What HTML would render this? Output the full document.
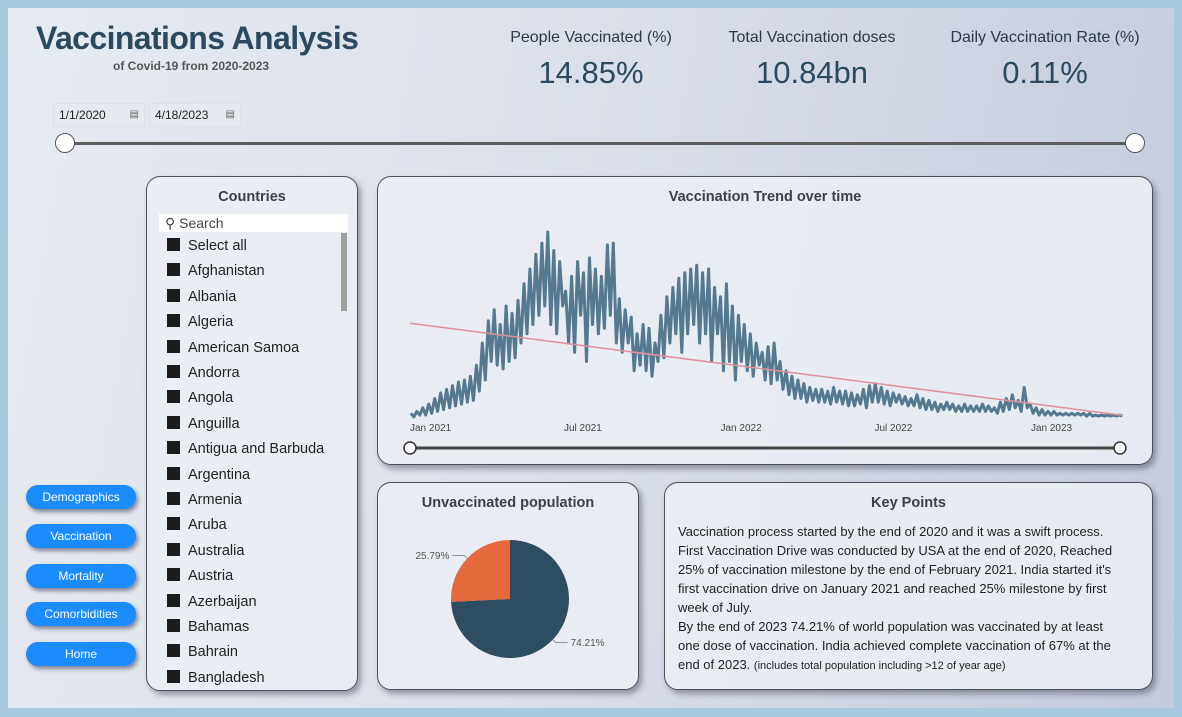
<!DOCTYPE html>
<html><head><meta charset="utf-8">
<style>
body{margin:0;width:1182px;height:717px;background:#a9cade;font-family:"Liberation Sans",sans-serif;overflow:hidden;position:relative}
#canvas{position:absolute;left:8px;top:8px;width:1166px;height:700px;background:linear-gradient(100deg,#e7ebf2 0%,#d9dee8 50%,#c4cbdb 100%)}
.abs{position:absolute}
.panel{position:absolute;border:1px solid #4a4f58;border-radius:14px;background:rgba(234,237,244,0.9);box-shadow:3px 4px 6px rgba(60,60,80,0.45)}
.ptitle{position:absolute;left:0;right:0;text-align:center;font-size:14.5px;font-weight:bold;color:#3c4048}
.kpi-l{position:absolute;font-size:16px;color:#2c3a48;text-align:center}
.kpi-v{position:absolute;font-size:31px;color:#2c4a5f;text-align:center}
.btn{position:absolute;left:26px;width:110px;height:24px;border-radius:12px;background:#1a8cff;color:#fff;font-size:12px;text-align:center;line-height:24px;box-shadow:2px 3px 4px rgba(40,40,60,0.5)}
.item{position:absolute;left:20px;font-size:14.5px;color:#222;height:20px;line-height:20px}
.item span.cb{display:inline-block;width:13px;height:13px;background:#1c1c1c;margin-right:8px;vertical-align:-1px}
.date{position:absolute;top:103px;height:22px;background:rgba(230,234,240,0.8);border:1px solid #dde1e8;font-size:12px;line-height:22px;color:#222;padding-left:5px}
</style></head><body>
<div id="canvas"></div>
<div class="abs" style="left:36px;top:20px;font-size:32px;font-weight:bold;color:#2c4a5f;letter-spacing:-0.6px">Vaccinations Analysis</div>
<div class="abs" style="left:113px;top:59px;font-size:12px;font-weight:bold;color:#555">of Covid-19 from 2020-2023</div>

<div class="kpi-l" style="left:491px;width:200px;top:29px">People Vaccinated (%)</div>
<div class="kpi-v" style="left:491px;width:200px;top:55px">14.85%</div>
<div class="kpi-l" style="left:712px;width:200px;top:29px">Total Vaccination doses</div>
<div class="kpi-v" style="left:712px;width:200px;top:55px">10.84bn</div>
<div class="kpi-l" style="left:945px;width:200px;top:29px">Daily Vaccination Rate (%)</div>
<div class="kpi-v" style="left:945px;width:200px;top:55px">0.11%</div>

<div class="date" style="left:53px;width:85px">1/1/2020<span style="position:absolute;right:5px;font-size:10px;color:#666">▤</span></div>
<div class="date" style="left:149px;width:85px">4/18/2023<span style="position:absolute;right:5px;font-size:10px;color:#666">▤</span></div>
<div class="abs" style="left:66px;top:142px;width:1070px;height:3px;background:#5c5c5c"></div>
<div class="abs" style="left:55px;top:133px;width:18px;height:18px;border:1.5px solid #555;border-radius:50%;background:#fff"></div>
<div class="abs" style="left:1125px;top:133px;width:18px;height:18px;border:1.5px solid #555;border-radius:50%;background:#fff"></div>

<div class="btn" style="top:485px">Demographics</div>
<div class="btn" style="top:524px">Vaccination</div>
<div class="btn" style="top:564px">Mortality</div>
<div class="btn" style="top:602px">Comorbidities</div>
<div class="btn" style="top:642px">Home</div>

<div class="panel" style="left:146px;top:176px;width:210px;height:513px;overflow:hidden">
 <div class="ptitle" style="top:12px">Countries</div>
 <div class="abs" style="left:12px;top:37px;width:183px;height:18px;background:#fff;font-size:14px;color:#444;line-height:18px;padding-left:6px">⚲ Search</div>
 <div class="abs" style="left:194px;top:56px;width:6px;height:78px;background:#a0a0a0"></div>
 <div id="list"></div>
</div>

<div class="panel" style="left:377px;top:176px;width:774px;height:287px">
 <div class="ptitle" style="top:12px">Vaccination Trend over time</div>
</div>
<div class="panel" style="left:377px;top:482px;width:260px;height:206px">
 <div class="ptitle" style="top:12px">Unvaccinated population</div>
</div>
<div class="panel" style="left:664px;top:482px;width:487px;height:206px">
 <div class="ptitle" style="top:12px">Key Points</div>
 <div class="abs" style="left:13px;top:39px;width:480px;font-size:13px;line-height:19px;color:#222;white-space:nowrap">Vaccination process started by the end of 2020 and it was a swift process.<br>First Vaccination Drive was conducted by USA at the end of 2020, Reached<br>25% of vaccination milestone by the end of February 2021. India started it's<br>first vaccination drive on January 2021 and reached 25% milestone by first<br>week of July.<br>By the end of 2023 74.21% of world population was vaccinated by at least<br>one dose of vaccination. India achieved complete vaccination of 67% at the<br>end of 2023. <span style="font-size:11px">(includes total population including &gt;12 of year age)</span></div>
</div>

<svg class="abs" style="left:0;top:0" width="1182" height="717" id="svg"></svg>

<script>
const countries=["Select all","Afghanistan","Albania","Algeria","American Samoa","Andorra","Angola","Anguilla","Antigua and Barbuda","Argentina","Armenia","Aruba","Australia","Austria","Azerbaijan","Bahamas","Bahrain","Bangladesh"];
const weeklyHighs=[2,3,5,7,10,13,15,17,19,20,22,28,40,52,58,50,60,56,63,72,80,88,94,100,90,84,68,76,84,78,86,80,76,93,94,64,58,54,45,50,48,40,55,65,70,75,78,80,82,78,80,70,65,72,60,55,50,45,40,35,38,40,30,25,22,20,18,16,15,15,14,16,14,14,13,12,15,17,18,16,14,13,12,11,10,12,10,9,8,7,8,7,6,7,6,6,7,6,5,8,10,12,9,16,7,5,4,3,3,2,2,2,2,2,2,1,1,1,1,1];
const weeklyLows=[0,1,1,2,3,4,5,6,7,8,9,14,20,30,28,26,30,32,40,45,50,55,60,50,45,60,40,35,55,30,50,45,48,55,40,35,40,25,28,25,22,30,32,40,45,35,45,50,40,45,30,45,25,30,20,30,25,22,28,20,18,20,15,12,10,10,8,9,8,8,7,8,7,6,6,7,5,8,8,7,6,8,7,6,6,5,4,4,3,4,4,3,3,3,3,3,3,3,2,3,4,5,3,5,2,1,1,1,1,1,1,1,1,0.5,0.5,0.5,0.5,0.5,0.5,0.5];
const xTicks=["Jan 2021","Jul 2021","Jan 2022","Jul 2022","Jan 2023"];
const xTickDays=[0,181,365,546,730];
const pieLabels=["Vaccinated","Unvaccinated"];
const pieValues=[74.21,25.79];

const NS="http://www.w3.org/2000/svg";
const svg=document.getElementById('svg');
function mk(t,a){const e=document.createElementNS(NS,t);for(const k in a)e.setAttribute(k,a[k]);svg.appendChild(e);return e;}

const list=document.getElementById('list');
countries.forEach((c,i)=>{
 const d=document.createElement('div');
 d.className='item';d.style.top=(59+i*25.4)+'px';
 d.innerHTML='<span class="cb"></span>'+c;
 
 
 list.appendChild(d);
});

const totalDays=837,x0=410,x1=1122,base=417,vmax=100,ytop=232;
const xS=d=>x0+d/totalDays*(x1-x0);
const yS=v=>base-v/vmax*(base-ytop);
const pts=[];
weeklyHighs.forEach((h,i)=>{pts.push([i*7+1,h]);pts.push([i*7+4.5,weeklyLows[i]]);});
let n=pts.length,sx=0,sy=0,sxx=0,sxy=0;
pts.forEach(p=>{sx+=p[0];sy+=p[1];sxx+=p[0]*p[0];sxy+=p[0]*p[1];});
const m=(n*sxy-sx*sy)/(n*sxx-sx*sx),b=(sy-m*sx)/n;
const line=mk('path',{d:pts.map((p,i)=>(i?'L':'M')+xS(p[0]).toFixed(1)+','+yS(p[1]).toFixed(1)).join(''),fill:'none',stroke:'#557a8f','stroke-width':3,'stroke-linejoin':'round'});


const tr=mk('line',{x1:xS(0),y1:yS(b),x2:xS(totalDays),y2:yS(b+m*totalDays),stroke:'#e0909a','stroke-width':1.5});


xTicks.forEach((t,i)=>{
 const e=mk('text',{x:xS(xTickDays[i]),y:431,'font-size':10,fill:'#444','font-family':'Liberation Sans'});
 e.textContent=t;
 
 
});
const trk=mk('line',{x1:410,y1:448,x2:1120,y2:448,stroke:'#444','stroke-width':3});


[410,1120].forEach(x=>{const c=mk('circle',{cx:x,cy:448,r:6,fill:'#fff',stroke:'#333','stroke-width':1.5});
 
 });

const cx=510,cy=599,r=59,tot=pieValues.reduce((a,b)=>a+b,0),cols=['#2e4d60','#e5693a'];
let a0=-Math.PI/2;
pieValues.forEach((v,i)=>{
 const a1=a0+v/tot*2*Math.PI,large=(a1-a0)>Math.PI?1:0;
 const p=mk('path',{d:`M${cx},${cy}L${cx+r*Math.cos(a0)},${cy+r*Math.sin(a0)}A${r},${r} 0 ${large} 1 ${cx+r*Math.cos(a1)},${cy+r*Math.sin(a1)}Z`,fill:cols[i]});
 
 
 const am=(a0+a1)/2,ex=cx+(r+4)*Math.cos(am),ey=cy+(r+4)*Math.sin(am);
 const right=Math.cos(am)>0,lx=ex+(right?12:-12);
 mk('polyline',{points:`${cx+r*Math.cos(am)},${cy+r*Math.sin(am)} ${ex},${ey} ${lx},${ey}`,fill:'none',stroke:'#888','stroke-width':0.8});
 const t=mk('text',{x:lx+(right?3:-3),y:ey+3.5,'font-size':10,fill:'#555','text-anchor':right?'start':'end','font-family':'Liberation Sans'});
 t.textContent=v.toFixed(2)+'%';
 
 
 a0=a1;
});
</script>
</body></html>
